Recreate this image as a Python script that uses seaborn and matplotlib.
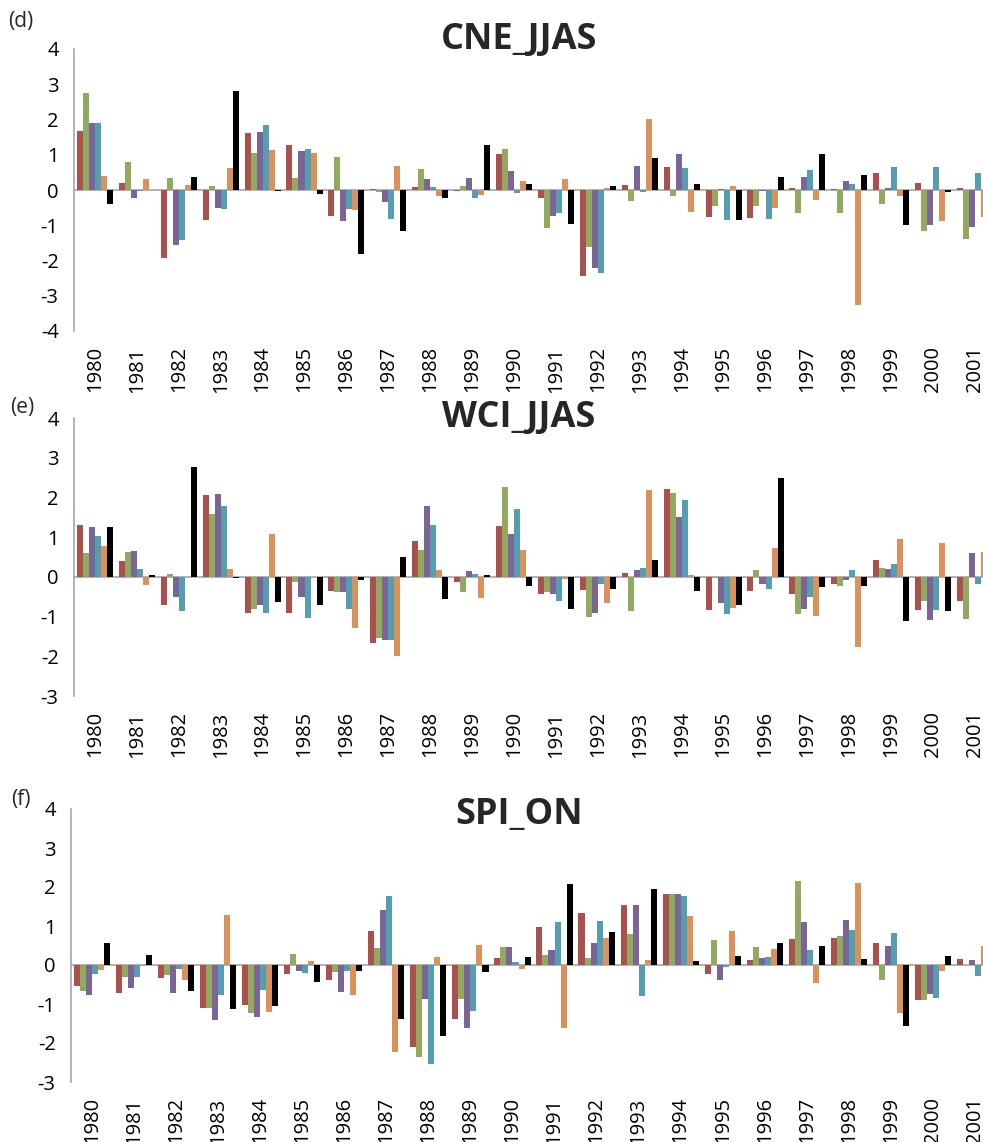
import matplotlib
matplotlib.use("Agg")
import matplotlib.pyplot as plt
import seaborn as sns
import pandas as pd
from matplotlib.ticker import FuncFormatter

# Years on the category axis
years = [str(y) for y in range(1980, 2002)]

# Series order and colours (same for every panel)
series = ["s1", "s2", "s3", "s4", "s5", "s6"]
colors = ["#B9433F", "#95B752", "#7A5C9E", "#45A7C2", "#F08E45", "#000000"]

# CNE_JJAS
cne_s1 = [1.66, 0.19, -1.94, -0.85, 1.63, 1.27, -0.74, 0.02, 0.08, -0.02, 1.02, -0.24, -2.43, 0.14, 0.65, -0.76, -0.79, 0.05, 0.02, 0.49, 0.20, 0.05]
cne_s2 = [2.75, 0.80, 0.34, 0.10, 1.04, 0.34, 0.93, -0.05, 0.59, 0.11, 1.16, -1.09, -1.63, -0.30, -0.16, -0.45, -0.45, -0.66, -0.66, -0.41, -1.17, -1.38]
cne_s3 = [1.89, -0.24, -1.56, -0.51, 1.65, 1.10, -0.89, -0.35, 0.31, 0.34, 0.53, -0.73, -2.22, 0.69, 1.02, 0.02, -0.02, 0.38, 0.25, 0.05, -0.99, -1.04]
cne_s4 = [1.89, -0.04, -1.43, -0.54, 1.83, 1.17, -0.53, -0.82, 0.08, -0.24, -0.09, -0.64, -2.36, -0.07, 0.62, -0.85, -0.82, 0.58, 0.18, 0.65, 0.65, 0.49]
cne_s5 = [0.39, 0.31, 0.14, 0.61, 1.14, 1.04, -0.56, 0.69, -0.16, -0.13, 0.26, 0.31, 0.05, 2.01, -0.61, 0.12, -0.51, -0.28, -3.27, -0.16, -0.87, -0.78]
cne_s6 = [-0.40, 0.0, 0.38, 2.80, -0.04, -0.11, -1.82, -1.15, -0.22, 1.29, 0.17, -0.96, 0.10, 0.91, 0.17, -0.85, 0.38, 1.03, 0.43, -0.98, -0.07, -1.20]

# WCI_JJAS
wci_s1 = [1.31, 0.40, -0.70, 2.05, -0.92, -0.91, -0.35, -1.66, 0.90, -0.14, 1.28, -0.42, -0.34, 0.10, 2.22, -0.83, -0.36, -0.42, -0.17, 0.42, -0.83, -0.61]
wci_s2 = [0.60, 0.62, 0.07, 1.58, -0.80, -0.14, -0.39, -1.55, 0.67, -0.39, 2.27, -0.37, -1.02, -0.86, 2.10, -0.03, 0.18, -0.94, -0.23, 0.23, -0.61, -1.05]
wci_s3 = [1.25, 0.65, -0.50, 2.08, -0.72, -0.50, -0.39, -1.59, 1.78, 0.15, 1.09, -0.42, -0.92, 0.18, 1.50, -0.66, -0.17, -0.80, -0.08, 0.19, -1.08, 0.60]
wci_s4 = [1.04, 0.21, -0.86, 1.78, -0.92, -1.04, -0.80, -1.59, 1.31, 0.07, 1.72, -0.60, -0.19, 0.23, 1.94, -0.94, -0.30, -0.50, 0.18, 0.32, -0.83, -0.17]
wci_s5 = [0.78, -0.20, 0.0, 0.21, 1.09, 0.0, -1.30, -2.00, 0.18, -0.53, 0.68, -0.06, -0.66, 2.19, 0.04, -0.78, 0.73, -0.99, -1.76, 0.95, 0.85, 0.62]
wci_s6 = [1.25, 0.04, 2.77, -0.04, -0.64, -0.72, -0.07, 0.50, -0.56, 0.04, -0.23, -0.82, -0.31, 0.43, -0.36, -0.70, 2.49, -0.25, -0.23, -1.11, -0.86, -0.60]

# SPI_ON
spi_s1 = [-0.53, -0.72, -0.34, -1.11, -1.03, -0.24, -0.38, 0.88, -2.09, -1.38, 0.17, 0.97, 1.34, 1.54, 1.81, -0.23, 0.12, 0.67, 0.69, 0.57, -0.91, 0.15]
spi_s2 = [-0.66, -0.30, -0.26, -1.09, -1.23, 0.28, -0.19, 0.44, -2.37, -0.87, 0.47, 0.26, 0.18, 0.79, 1.81, 0.64, 0.47, 2.15, 0.75, -0.38, -0.91, 0.0]
spi_s3 = [-0.77, -0.58, -0.72, -1.40, -1.33, -0.16, -0.69, 1.41, -0.87, -1.61, 0.47, 0.39, 0.57, 1.54, 1.83, -0.38, 0.17, 1.10, 1.16, 0.49, -0.75, 0.13]
spi_s4 = [-0.23, -0.30, -0.09, -0.77, -0.63, -0.20, -0.16, 1.76, -2.55, -1.19, 0.07, 1.10, 1.12, -0.79, 1.76, -0.06, 0.20, 0.39, 0.91, 0.83, -0.85, -0.29]
spi_s5 = [-0.12, -0.03, -0.38, 1.28, -1.21, 0.11, -0.77, -2.22, 0.20, 0.51, -0.11, -1.61, 0.69, 0.12, 1.26, 0.86, 0.41, -0.45, 2.10, -1.22, -0.15, 0.49]
spi_s6 = [0.57, 0.25, -0.67, -1.14, -1.06, -0.43, -0.16, -1.38, -1.83, -0.17, 0.20, 2.07, 0.84, 1.95, 0.09, 0.23, 0.57, 0.49, 0.15, -1.56, 0.23, 0.0]

panels = [
    ("(d)", "CNE_JJAS", [cne_s1, cne_s2, cne_s3, cne_s4, cne_s5, cne_s6], (-4, 4)),
    ("(e)", "WCI_JJAS", [wci_s1, wci_s2, wci_s3, wci_s4, wci_s5, wci_s6], (-3, 4)),
    ("(f)", "SPI_ON", [spi_s1, spi_s2, spi_s3, spi_s4, spi_s5, spi_s6], (-3, 4)),
]

sns.set_theme(style="white")
plt.rcParams["font.family"] = ["Open Sans", "DejaVu Sans"]

W, H = 983, 1142
fig = plt.figure(figsize=(W / 100, H / 100), dpi=100)

# axes boxes in pixels: left, top, right, bottom
boxes = [(74, 49, 996, 331), (74, 418, 996, 696), (71, 809, 996, 1082)]
title_y = [40, 418, 815]
tag_pos = [(8, 22), (10, 408), (11, 799)]

axis_grey = "#A6A6A6"

for (tag, title, vals, ylim), (l, t, r, b), ty, (tx, tyy) in zip(panels, boxes, title_y, tag_pos):
    ax = fig.add_axes([l / W, 1 - b / H, (r - l) / W, (b - t) / H])
    df = pd.DataFrame({
        "year": years * len(series),
        "series": [s for s in series for _ in years],
        "value": [v for col in vals for v in col],
    })
    sns.barplot(data=df, x="year", y="value", hue="series", order=years,
                hue_order=series, palette=colors, width=0.86, gap=0,
                linewidth=0, legend=False, ax=ax)
    ax.axhline(0, color=axis_grey, lw=1.2, zorder=0.5)
    ax.set_xlim(-0.5, len(years) - 0.5)
    ax.set_ylim(*ylim)
    ax.set_yticks(range(ylim[0], ylim[1] + 1))
    ax.yaxis.set_major_formatter(FuncFormatter(lambda v, p: f"{int(v)}".replace("\u2212", "-")))
    ax.set_xlabel("")
    ax.set_ylabel("")
    for side in ("top", "right", "bottom"):
        ax.spines[side].set_visible(False)
    ax.spines["left"].set_color(axis_grey)
    ax.spines["left"].set_linewidth(1.2)
    ax.tick_params(axis="y", length=0, pad=11, labelsize=14.5, labelcolor="black")
    ax.tick_params(axis="x", length=0, pad=11, labelsize=14.5, labelrotation=90, labelcolor="black")
    fig.text(519 / W, 1 - ty / H, title, ha="center", va="center",
             fontsize=26, fontweight="bold")
    fig.text(tx / W, 1 - tyy / H, tag, ha="left", va="center", fontsize=15)

fig.savefig("out.png", dpi=100)
